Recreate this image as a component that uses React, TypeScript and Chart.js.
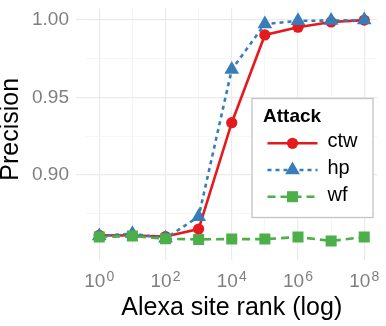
import React, { useEffect, useRef } from 'react';
import { Chart, registerables } from 'chart.js';

Chart.register(...registerables);

// ---- data ----
const ranks = [1, 10, 100, 1e3, 1e4, 1e5, 1e6, 1e7, 1e8];
const ctwPrecision = [0.8608, 0.8606, 0.86, 0.8648, 0.9336, 0.9904, 0.9954, 0.9988, 1.0];
const hpPrecision = [0.8603, 0.8618, 0.8588, 0.8728, 0.968, 0.9974, 0.9995, 0.9997, 1.0];
const wfPrecision = [0.8597, 0.8603, 0.8585, 0.8581, 0.8583, 0.8583, 0.8596, 0.8571, 0.8596];
const seriesNames = ['ctw', 'hp', 'wf'];
const seriesColors = ['#E41A1C', '#377EB8', '#4DAF4A'];
const yGridValues = [0.875, 0.9, 0.925, 0.95, 0.975, 1.0];
const xGridExponents = [0, 1, 2, 3, 4, 5, 6, 7, 8];
const xLabelBase = '10';
const legendTitle = 'Attack';
const xTitle = 'Alexa site rank (log)';
const yTitle = 'Precision';

const FONT = '"Liberation Sans", Arial, Helvetica, sans-serif';
const GRID = '#EBEBEB';
const TICK_TEXT = '#7F7F7F';

const dashes = [[], [4, 4], [8, 5]];
const pointStyles = ['circle', 'triangle', 'rect'];
const pointRadii = [5.6, 8.5, 7.8];

const isMajorY = (v: number) => Math.abs(v * 20 - Math.round(v * 20)) < 1e-6;
const xExp = (v: number) => Math.round(Math.log10(v));
const isMajorX = (v: number) => xExp(v) % 2 === 0;

function drawMarker(ctx: CanvasRenderingContext2D, style: string, x: number, y: number, r: number) {
  ctx.beginPath();
  if (style === 'circle') {
    ctx.arc(x, y, r, 0, Math.PI * 2);
  } else if (style === 'triangle') {
    for (let i = 0; i < 3; i++) {
      const a = -Math.PI / 2 + (i * 2 * Math.PI) / 3;
      const px = x + r * Math.cos(a);
      const py = y + r * Math.sin(a);
      if (i === 0) ctx.moveTo(px, py);
      else ctx.lineTo(px, py);
    }
    ctx.closePath();
  } else {
    const s = r * Math.SQRT1_2;
    ctx.rect(x - s, y - s, 2 * s, 2 * s);
  }
  ctx.fill();
}

// x tick labels as "10" with a raised exponent
const powerLabels = {
  id: 'powerLabels',
  afterDraw(chart: any) {
    const ctx: CanvasRenderingContext2D = chart.ctx;
    const xs = chart.scales.x;
    ctx.save();
    ctx.fillStyle = TICK_TEXT;
    ctx.textBaseline = 'alphabetic';
    ctx.textAlign = 'left';
    const baseY = chart.chartArea.bottom + 37;
    xs.ticks.forEach((t: any) => {
      const e = xExp(t.value);
      if (e % 2 !== 0) return;
      const px = xs.getPixelForValue(t.value);
      ctx.font = `19px ${FONT}`;
      const wb = ctx.measureText(xLabelBase).width;
      ctx.font = `14px ${FONT}`;
      const exp = String(e);
      const we = ctx.measureText(exp).width;
      const x0 = px - (wb + we + 1) / 2;
      ctx.font = `19px ${FONT}`;
      ctx.fillText(xLabelBase, x0, baseY);
      ctx.font = `14px ${FONT}`;
      ctx.fillText(exp, x0 + wb + 1, baseY - 6);
    });
    ctx.restore();
  },
};

const boxLegend = {
  id: 'boxLegend',
  afterDatasetsDraw(chart: any) {
    const ctx: CanvasRenderingContext2D = chart.ctx;
    const area = chart.chartArea;
    const bx = area.right - 125.5;
    const by = 98.5;
    const bw = 121;
    const bh = 119;
    ctx.save();
    ctx.fillStyle = '#FFFFFF';
    ctx.fillRect(bx, by, bw, bh);
    ctx.strokeStyle = '#C4C4C4';
    ctx.lineWidth = 1.3;
    ctx.strokeRect(bx, by, bw, bh);

    ctx.fillStyle = '#000000';
    ctx.font = `bold 19px ${FONT}`;
    ctx.textAlign = 'left';
    ctx.textBaseline = 'alphabetic';
    ctx.fillText(legendTitle, bx + 11, by + 23);

    const rowY = [by + 44.8, by + 71.5, by + 98.2];
    const lineX0 = bx + 15.5;
    const lineX1 = bx + 65.5;
    const mx = bx + 40.5;
    seriesNames.forEach((name, i) => {
      const y = rowY[i];
      ctx.strokeStyle = seriesColors[i];
      ctx.lineWidth = 2.5;
      ctx.setLineDash(dashes[i]);
      ctx.beginPath();
      ctx.moveTo(lineX0, y);
      ctx.lineTo(lineX1, y);
      ctx.stroke();
      ctx.setLineDash([]);
      ctx.fillStyle = seriesColors[i];
      drawMarker(ctx, pointStyles[i], mx, y, pointRadii[i]);
      ctx.fillStyle = '#000000';
      ctx.font = `20px ${FONT}`;
      ctx.textBaseline = 'middle';
      ctx.fillText(name, bx + 75.5, y - 1.5);
    });
    ctx.restore();
  },
};

export default function App() {
  const canvasRef = useRef<HTMLCanvasElement | null>(null);

  useEffect(() => {
    const canvas = canvasRef.current;
    if (!canvas) return;
    Chart.defaults.font.family = FONT;
    const seriesValues = [ctwPrecision, hpPrecision, wfPrecision];
    const datasets = seriesNames.map((name, i) => ({
      label: name,
      data: ranks.map((r, j) => ({ x: r, y: seriesValues[i][j] })),
      borderColor: seriesColors[i],
      backgroundColor: seriesColors[i],
      borderWidth: 2.6,
      borderDash: dashes[i],
      borderCapStyle: 'butt' as const,
      pointStyle: pointStyles[i] as any,
      pointRadius: pointRadii[i],
      pointBorderWidth: 0,
      pointBackgroundColor: seriesColors[i],
      tension: 0,
      order: 2 - i,
    }));

    const chart = new Chart(canvas, {
      type: 'line',
      data: { datasets },
      options: {
        animation: false,
        responsive: false,
        maintainAspectRatio: false,
        layout: { padding: { left: 0, right: 3, top: 0, bottom: 0 } },
        plugins: { legend: { display: false }, tooltip: { enabled: false } },
        scales: {
          x: {
            type: 'logarithmic',
            min: Math.pow(10, -0.4),
            max: Math.pow(10, 8.4),
            afterBuildTicks: (s: any) => {
              s.ticks = xGridExponents.map((e) => ({ value: Math.pow(10, e) }));
            },
            afterFit: (s: any) => {
              s.height = 76;
              s.paddingLeft = 0;
              s.paddingRight = 0;
              s.paddingTop = 0;
              s.paddingBottom = 0;
            },
            border: { display: false },
            grid: {
              color: (c: any) => (c.tick && isMajorX(c.tick.value) ? GRID : '#F2F2F2'),
              lineWidth: (c: any) => (c.tick && isMajorX(c.tick.value) ? 1.2 : 0.7),
              tickColor: (c: any) => (c.tick && isMajorX(c.tick.value) ? GRID : 'rgba(0,0,0,0)'),
              tickLength: 10,
              drawTicks: true,
            },
            ticks: {
              autoSkip: false,
              maxRotation: 0,
              minRotation: 0,
              padding: 8,
              color: TICK_TEXT,
              font: { size: 19, family: FONT },
              callback: () => '',
            },
            title: {
              display: true,
              text: xTitle,
              color: '#000000',
              font: { size: 25, family: FONT, lineHeight: 0.92 },
              padding: { top: 0, bottom: 6.5 },
            },
          },
          y: {
            type: 'linear',
            min: 0.85125,
            max: 1.0075,
            afterBuildTicks: (s: any) => {
              s.ticks = yGridValues.map((v) => ({ value: v }));
            },
            afterFit: (s: any) => {
              s.width = 86;
              s.paddingLeft = 0;
              s.paddingRight = 0;
              s.paddingTop = 0;
              s.paddingBottom = 0;
            },
            border: { display: false },
            grid: {
              color: (c: any) => (c.tick && isMajorY(c.tick.value) ? GRID : '#F2F2F2'),
              lineWidth: (c: any) => (c.tick && isMajorY(c.tick.value) ? 1.2 : 0.7),
              tickColor: (c: any) => (c.tick && isMajorY(c.tick.value) ? GRID : 'rgba(0,0,0,0)'),
              tickLength: 10,
              drawTicks: true,
            },
            ticks: {
              autoSkip: false,
              padding: 7,
              color: TICK_TEXT,
              font: { size: 19, family: FONT },
              callback: (v: any) => (isMajorY(Number(v)) ? Number(v).toFixed(2) : ''),
            },
            title: {
              display: true,
              text: yTitle,
              color: '#000000',
              font: { size: 25, family: FONT, lineHeight: 0.92 },
              padding: { top: 0, bottom: 0 },
            },
          },
        },
      },
      plugins: [boxLegend, powerLabels],
    });
    return () => chart.destroy();
  }, []);

  return (
    <div style={{ position: 'fixed', left: 0, top: 0, width: 386, height: 326, background: '#FFFFFF' }}>
      <canvas ref={canvasRef} width={386} height={326} style={{ display: 'block', width: 386, height: 326 }} />
    </div>
  );
}
